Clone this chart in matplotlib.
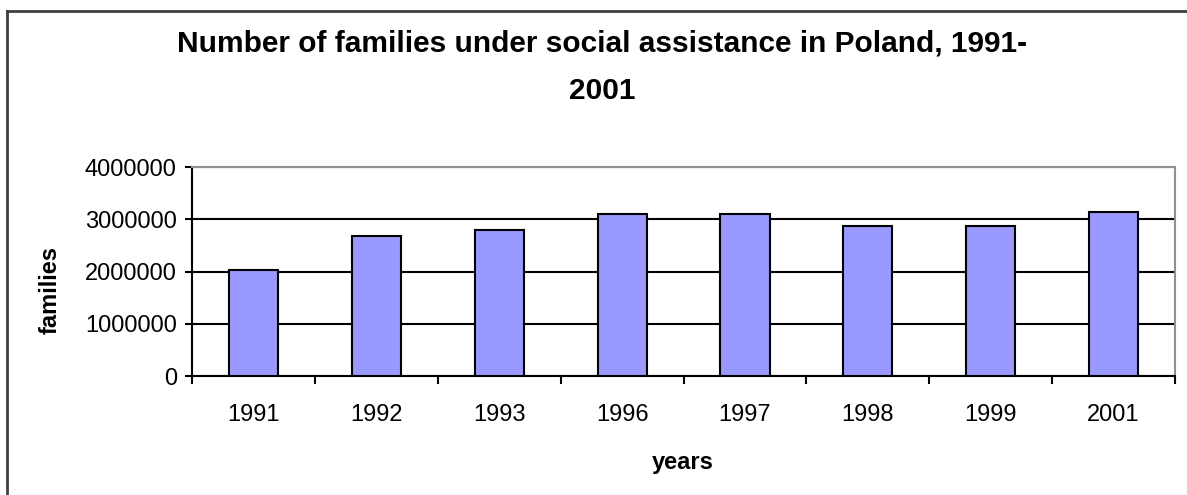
import numpy as np
import matplotlib.pyplot as plt
from matplotlib.ticker import FixedLocator, FuncFormatter
from matplotlib.lines import Line2D

years = ["1991", "1992", "1993", "1996", "1997", "1998", "1999", "2001"]
families = [2030000, 2680000, 2790000, 3110000, 3110000, 2870000, 2870000, 3140000]

plt.rcParams["font.family"] = ["Liberation Sans", "DejaVu Sans"]

fig = plt.figure(figsize=(11.87, 4.95), dpi=100)
ax = fig.add_axes([0.1618, 0.2404, 0.9899 - 0.1618, 0.6626 - 0.2404])

x = np.arange(len(years))
ax.bar(x, families, width=0.4, color="#9999ff", edgecolor="black", linewidth=1.5, zorder=3)

ax.set_xlim(-0.5, len(years) - 0.5)
ax.set_ylim(0, 4000000)
ax.set_yticks([0, 1000000, 2000000, 3000000, 4000000])
ax.yaxis.set_major_formatter(FuncFormatter(lambda v, p: f"{int(v)}"))
ax.set_xticks(x)
ax.set_xticklabels(years)
ax.xaxis.set_minor_locator(FixedLocator(np.arange(-0.5, len(years), 1.0)))
ax.tick_params(axis="x", which="major", length=0, pad=20, labelsize=17)
ax.tick_params(axis="x", which="minor", length=6, width=1.5, direction="out", color="black")
ax.tick_params(axis="y", length=5, width=1.5, direction="out", pad=6, labelsize=17)

ax.grid(axis="y", color="black", linewidth=1.5, zorder=0)
ax.set_axisbelow(True)
ax.spines["left"].set_linewidth(1.5)
ax.spines["bottom"].set_linewidth(1.5)
ax.spines["top"].set_color("#909090")
ax.spines["right"].set_color("#909090")
ax.spines["top"].set_linewidth(1.5)
ax.spines["right"].set_linewidth(1.5)

fig.text(683 / 1187, 1 - 462 / 495, "years", ha="center", va="center",
         fontsize=17, fontweight="bold")
fig.text(50 / 1187, 1 - 290 / 495, "families", ha="center", va="center",
         rotation=90, fontsize=17, fontweight="bold")
fig.text(602 / 1187, 1 - 44 / 495, "Number of families under social assistance in Poland, 1991-",
         ha="center", va="center", fontsize=21.5, fontweight="bold")
fig.text(602 / 1187, 1 - 91 / 495, "2001",
         ha="center", va="center", fontsize=21.5, fontweight="bold")

# outer chart frame (top and left edges visible)
fig.add_artist(Line2D([7 / 1187, 1], [1 - 11 / 495, 1 - 11 / 495], color="#404040", linewidth=2))
fig.add_artist(Line2D([7 / 1187, 7 / 1187], [0, 1 - 11 / 495], color="#404040", linewidth=2))

fig.savefig("out.png", dpi=100)
